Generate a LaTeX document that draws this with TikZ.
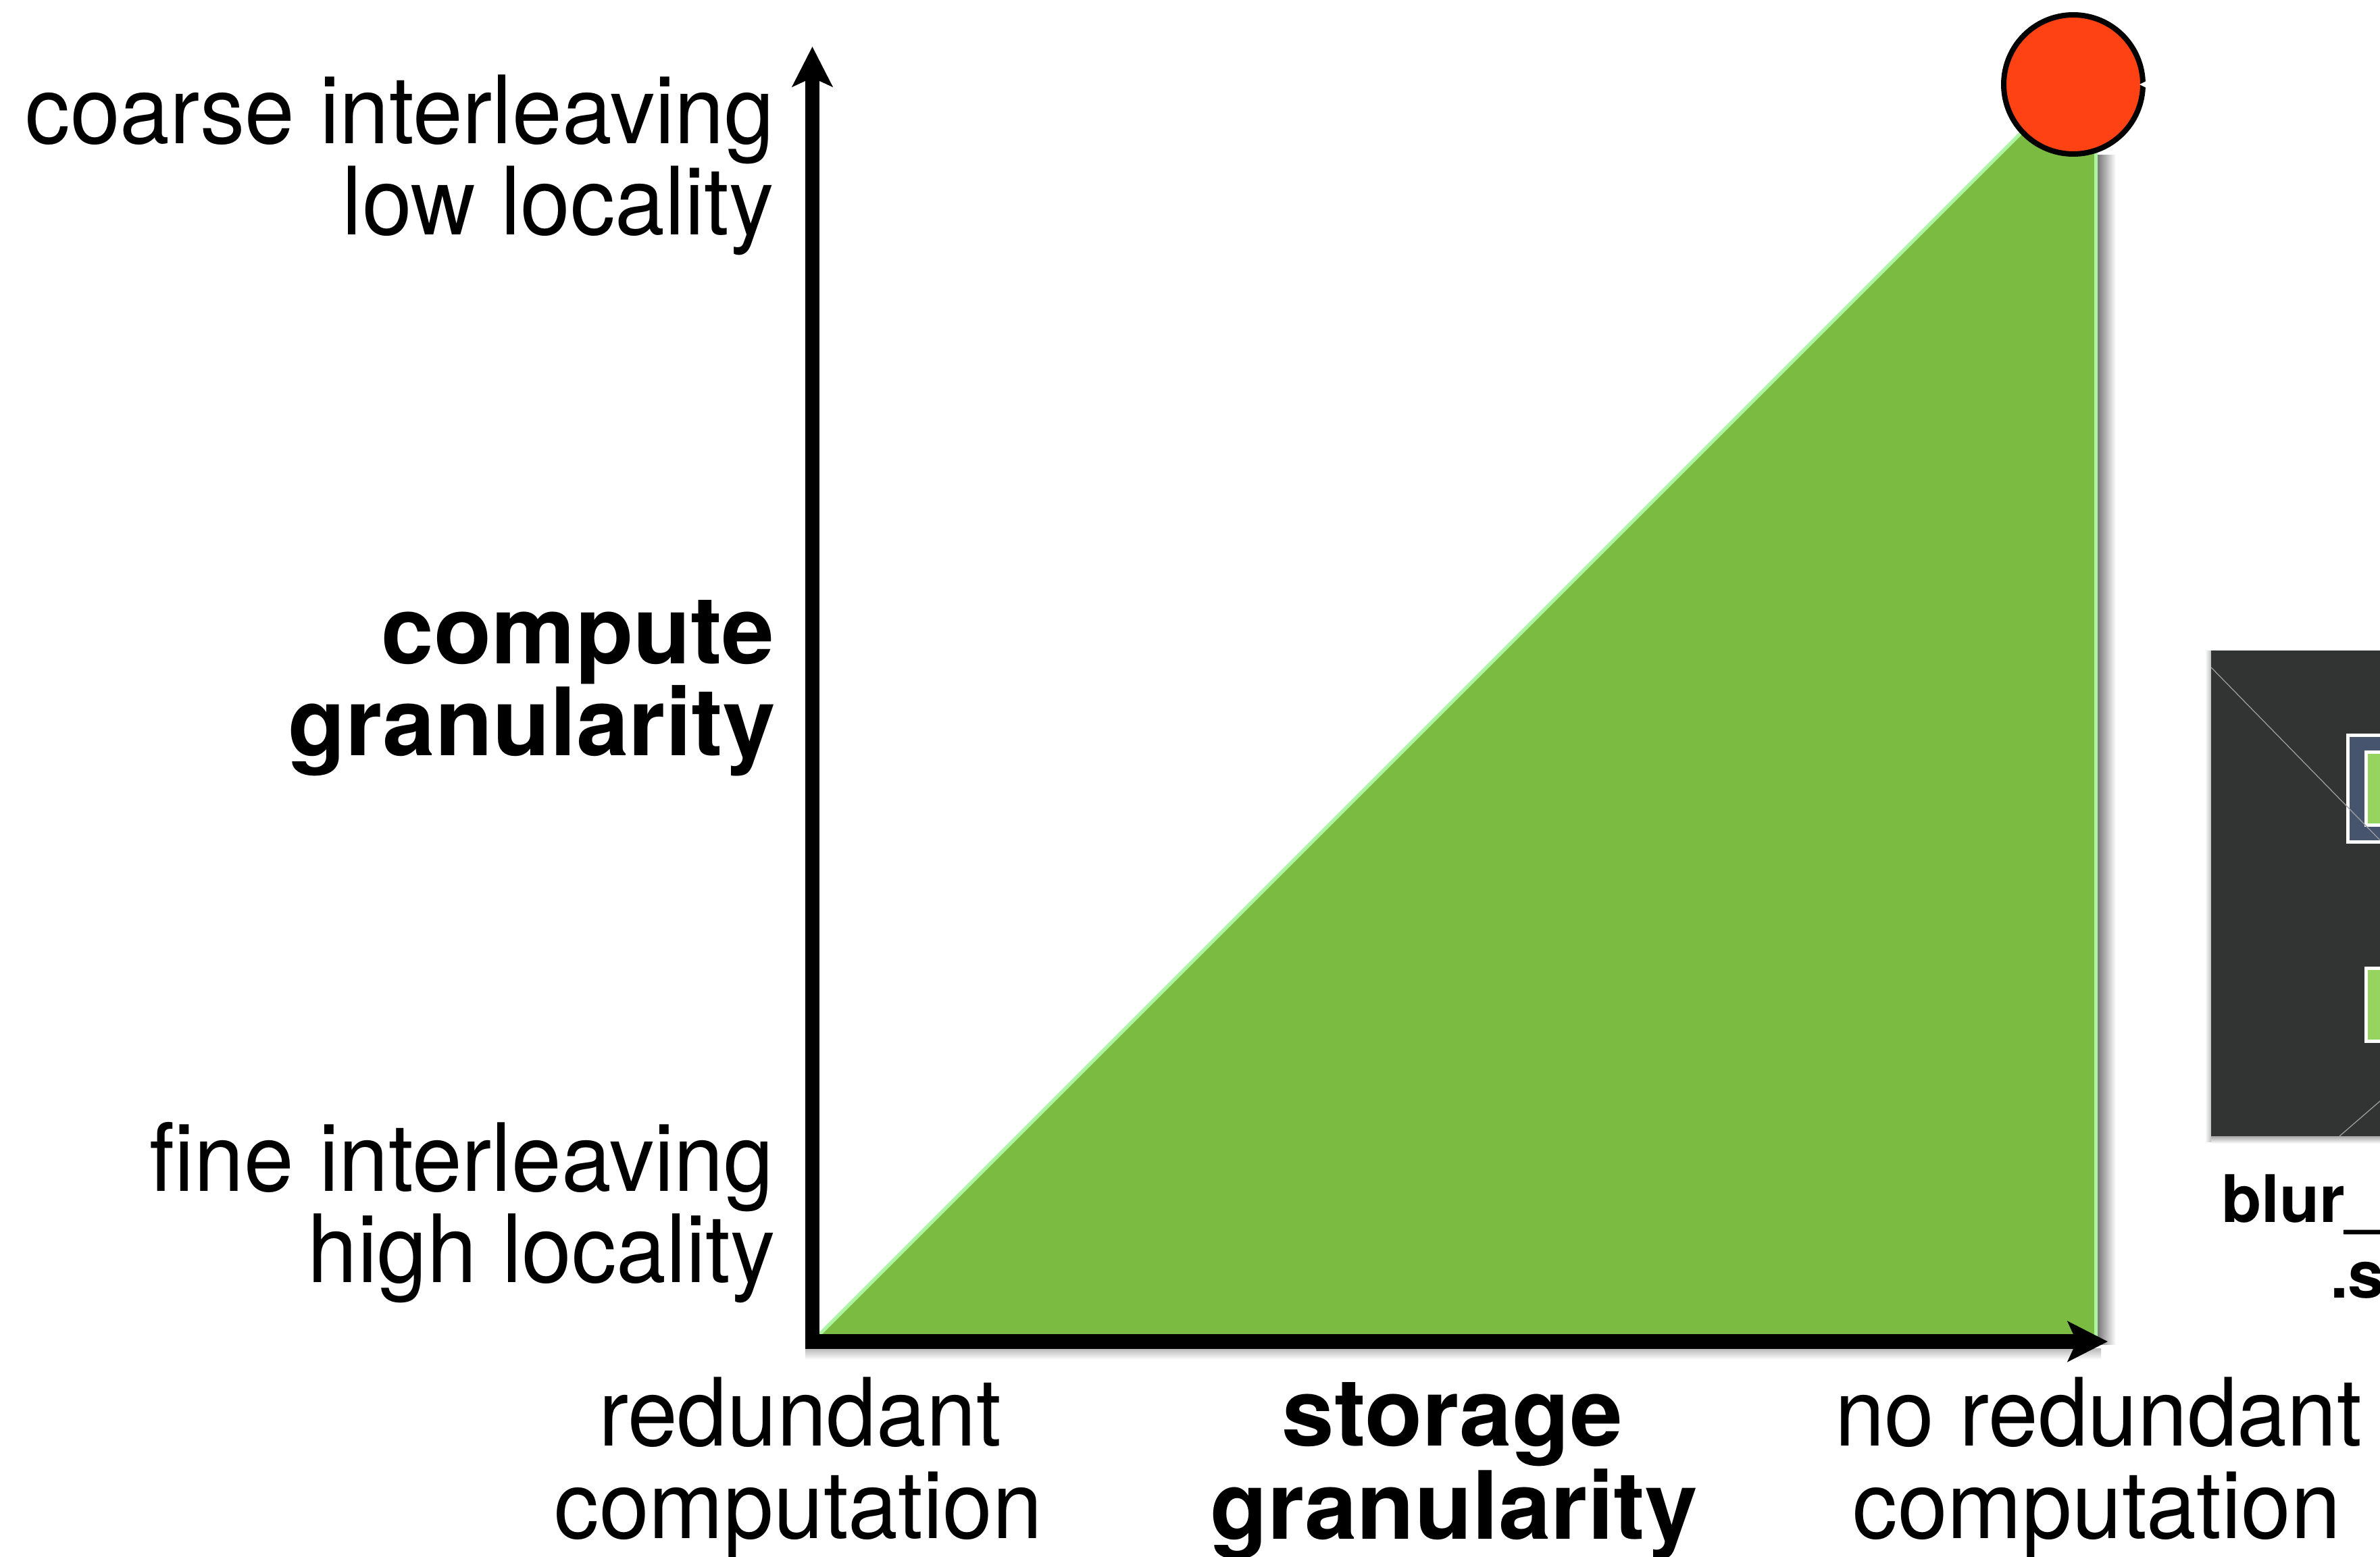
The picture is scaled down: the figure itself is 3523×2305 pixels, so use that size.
\documentclass[tikz,border=0pt]{standalone}
\usepackage{fontspec}
\setmainfont{TeX Gyre Heros}
\newfontfamily\thinfont[FakeStretch=0.95]{TeX Gyre Heros}
\newfontfamily\heavyfont{TeX Gyre Heros}
\usetikzlibrary{arrows.meta}
\definecolor{tri}{HTML}{7BBB42}
\definecolor{triedge}{HTML}{AEF5A2}
\definecolor{dotred}{HTML}{FF4213}
\definecolor{panel}{HTML}{323434}
\definecolor{slate}{HTML}{46546E}
\definecolor{chip}{HTML}{96D35F}
\tikzset{axistip/.tip={Stealth[length=11.8pt,width=11.8pt,inset=2.6pt]}}
\begin{document}
\begin{tikzpicture}[x=0.2pt,y=-0.2pt,
  lab/.style={inner sep=0pt, font=\thinfont\fontsize{27.9}{27.9}\selectfont},
  blab/.style={inner sep=0pt, font=\heavyfont\bfseries\fontsize{27.9}{27.9}\selectfont},
  caption/.style={inner sep=0pt, anchor=base west, font=\heavyfont\bfseries\fontsize{19.4}{19.4}\selectfont},
  axisline/.style={line width=4.3pt, line join=miter, axistip-axistip},
  chipbox/.style={draw=white, line width=1pt}]
\useasboundingbox (0,0) rectangle (3523,2305);
\fill[white] (0,0) rectangle (3523,2305);

% triangle region
\coordinate (origin) at (1202.5,1986);
\coordinate (ytip) at (1202.5,69);
\coordinate (xtip) at (3120,1986);
\coordinate (tribr) at (3102.5,1986);
\coordinate (tritop) at (3102.5,86);

\shade[left color=black!55, right color=white] (3104,230) rectangle (3132,1990);
\shade[top color=black!28, bottom color=white] (1192,1996) rectangle (3110,2013);
\fill[tri] (origin) -- (tribr) -- (tritop) -- cycle;
\draw[triedge, line width=1pt] (origin) -- (tritop) -- (tribr);

% axes
\draw[axisline] (ytip) -- (origin) -- (xtip);

% red dot
\node[circle, draw=black, line width=1.6pt, fill=dotred, minimum size=41.2pt, inner sep=0pt] (dot) at (3069,125) {};
\fill[white] (3179,119) -- (3167,125) -- (3179,131) -- cycle;

% y-axis labels
\node[lab, anchor=base east] (coarse) at (1147,213) {coarse interleaving};
\node[lab, anchor=base east] (lowloc) at (1147,348) {low locality};
\node[blab, anchor=base east] (compute) at (1147,982) {compute};
\node[blab, anchor=base east] (cgran) at (1149,1118) {granularity};
\node[lab, anchor=base east] (fine) at (1146,1763) {fine interleaving};
\node[lab, anchor=base east] (highloc) at (1149,1898) {high locality};

% x-axis labels
\node[lab, anchor=base] (redund) at (1184,2140) {redundant};
\node[lab, anchor=base] (comp1) at (1182,2277) {computation};
\node[blab, anchor=base] (storage) at (2150,2140) {storage};
\node[blab, anchor=base] (sgran) at (2152,2278) {granularity};
\node[lab, anchor=base] (noredund) at (3106,2140) {no redundant};
\node[lab, anchor=base] (comp2) at (3104,2277) {computation};

% cropped thumbnail panel at right
\shade[left color=white, right color=black!25] (3264,963) rectangle (3273,1690);
\shade[top color=black!35, bottom color=white] (3273,1682) rectangle (3530,1693);
\fill[panel] (3273,963) rectangle (3530,1682);
\draw[chipbox, fill=slate] (3475.5,1088.5) rectangle (3545,1246.5);
\draw[chipbox, fill=chip] (3502.5,1113.5) rectangle (3560,1221.5);
\draw[chipbox, fill=chip] (3502.5,1433.5) rectangle (3560,1541.5);
\draw[gray!75, line width=0.25pt] (3273,988) -- (3530,1251);
\draw[gray!75, line width=0.25pt] (3463,1682) -- (3530,1624);
\node[caption] (cap1) at (3287,1809) {blur\_x};
\node[caption] (cap2) at (3448,1921) {.s};
\end{tikzpicture}
\end{document}
